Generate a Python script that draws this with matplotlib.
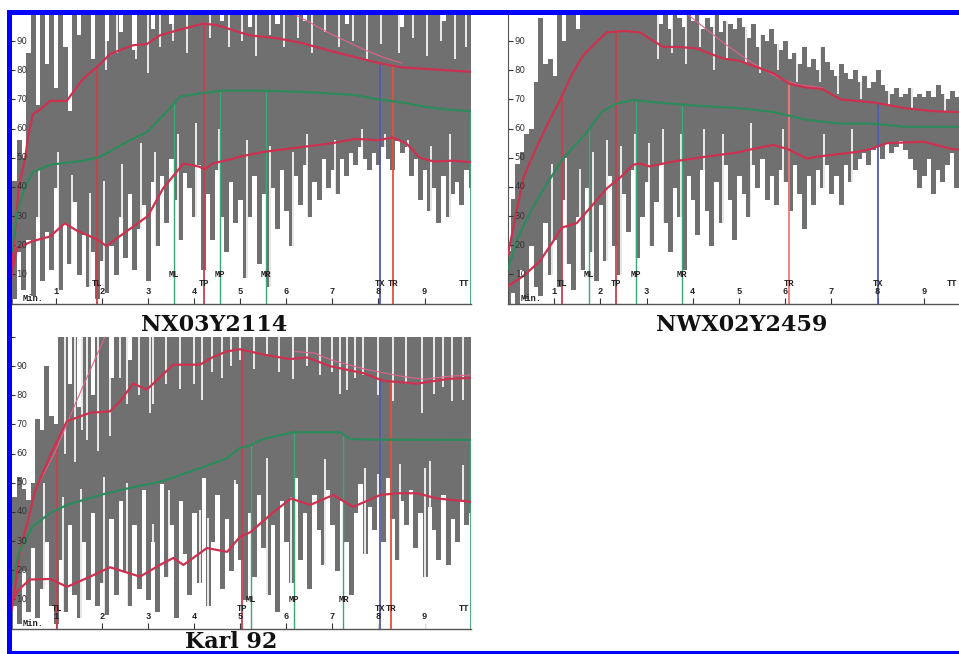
import numpy as np
import matplotlib
matplotlib.use("Agg")
import matplotlib.pyplot as plt
from matplotlib.patches import Rectangle

W, H, DPI = 959, 654, 100
SAMPLE_STEP = 0.1          # minutes between stored trace samples
NAN = float("nan")

MINUTE_TICKS = [1, 2, 3, 4, 5, 6, 7, 8, 9]
MINUTE_LABELS = ["1", "2", "3", "4", "5", "6", "7", "8", "9"]
Y_TICKS = [10, 20, 30, 40, 50, 60, 70, 80, 90]
Y_LABELS = ["10", "20", "30", "40", "50", "60", "70", "80", "90"]

# ---------------------------------------------------------------- NX03Y2114
nx_title = "NX03Y2114"
nx_hi = [15, 42, 56, 50, 86, 100, 68, 100, 82, 100,
         74, 100, 88, 66, 100, 92, 100, 100, 84, 100,
         100, 90, 100, 100, 93, 100, 100, 87, 100, 100,
         100, 94, 100, 100, 100, 96, 100, 100, 100, 100,
         100, 100, 100, 100, 100, 100, 97, 100, 100, 100,
         100, 100, 95, 100, 100, 100, 100, 100, 96, 100,
         100, 100, 100, 100, 97, 100, 100, 100, 100, 100,
         100, 100, 100, 96, 100, 100, 100, 100, 100, 100,
         100, 100, 100, 100, 100, 95, 100, 100, 100, 100,
         100, 100, 100, 100, 97, 100, 100, 100, 100, 100,
         100]
nx_lo = [0, 2, 18, 5, 22, 3, 30, 8, 25, 12,
         40, 5, 28, 14, 35, 10, 24, 6, 18, 2,
         15, 4, 20, 10, 30, 16, 38, 12, 26, 34,
         8, 42, 20, 44, 28, 50, 36, 22, 45, 40,
         30, 48, 12, 38, 22, 46, 30, 18, 42, 28,
         36, 9, 30, 44, 14, 38, 6, 40, 26, 46,
         32, 20, 44, 34, 48, 30, 42, 36, 50, 40,
         46, 38, 50, 44, 52, 48, 54, 50, 46, 52,
         48, 54, 50, 46, 56, 52, 54, 44, 50, 36,
         46, 32, 40, 28, 44, 30, 38, 42, 34, 46,
         40]
nx_up_t = [0.03, 0.12, 0.2, 0.34, 0.41, 0.51, 0.70, 0.88, 1.24, 1.59, 1.96, 2.18,
           2.68, 2.98, 3.26, 3.70, 4.2, 4.5, 5.2, 5.8, 6.3, 7.0, 7.5, 8.0, 8.5,
           9.0, 9.5, 10.0]
nx_up_v = [7, 25, 40, 50, 58, 65, 67, 69.5, 69.5, 77, 82, 85.6,
           88.6, 89, 92, 94, 96, 95.5, 92, 91, 89.5, 86.5, 84.5, 82.5, 81,
           80.5, 80, 79.5]
nx_mid_t = [0.05, 0.15, 0.29, 0.5, 0.88, 1.6, 1.9, 2.1, 2.55, 3.0, 3.4, 3.7, 4.1,
            4.6, 5.5, 6.5, 7.5, 8.0, 8.5, 9.0, 9.5, 10.0]
nx_mid_v = [18, 30, 38, 45, 47.6, 49, 50, 51.5, 55.5, 59, 65.7, 71, 72,
            73, 73, 72.5, 71.5, 70, 69, 67.5, 66.5, 66]
nx_low_t = [0.05, 0.16, 0.5, 0.88, 1.2, 1.46, 1.9, 2.1, 2.33, 3.0, 3.33, 3.77,
            4.1, 4.24, 4.4, 4.85, 5.0, 5.5, 6.0, 6.5, 7.0, 7.5, 8.0, 8.3, 8.6,
            8.9, 9.2, 9.6, 10.0]
nx_low_v = [10, 19, 21.4, 23, 27.5, 25, 22, 19.7, 22.4, 30, 39.5, 48,
            47, 46, 48, 49.7, 50.4, 52, 53, 54, 55, 56.5, 56, 57, 55,
            50, 48.7, 49, 48.5]
nx_max_t = [6.2, 6.5, 6.9, 7.3, 7.7, 8.1, 8.5]
nx_max_v = [99, 96.5, 93, 90, 87, 84.5, 82.5]
nx_gap_top_t = [2.1, 2.33, 2.75, 3.0, 3.27, 3.55, 3.85, 4.35, 4.75, 5.05, 5.35, 5.65,
                5.95, 6.25, 6.55, 6.85, 7.15, 7.45, 7.75, 8.05, 8.45, 8.75, 9.05,
                9.35, 9.65, 9.9]
nx_gap_top_v = [80, 86, 84, 79, 88, 90, 86, 91, 88, 90, 85, 92,
                88, 91, 86, 93, 88, 90, 84, 89, 86, 91, 85,
                90, 84, 88]
nx_gap_bot_t = [0.65, 1.05, 1.35, 1.75, 2.05, 2.45, 2.85, 3.15, 3.65, 4.05, 4.55,
                5.15, 5.65, 6.15, 6.45, 7.05, 7.65, 8.15, 8.65, 9.15, 9.55]
nx_gap_bot_v = [46, 52, 44, 38, 42, 48, 55, 52, 58, 62, 60,
                56, 54, 52, 58, 56, 60, 58, 56, 54, 58]
nx_marks = ["TL", "ML", "TP", "MP", "MR", "TX", "TR", "TT"]
nx_mark_t = [1.9, 3.57, 4.22, 4.57, 5.56, 8.04, 8.31, 10.0]

# --------------------------------------------------------------- NWX02Y2459
nw_title = "NWX02Y2459"
nw_hi = [18, 36, 48, 52, 58, 60, 76, 98, 82, 84,
         78, 100, 90, 100, 100, 94, 100, 100, 100, 100,
         100, 100, 100, 100, 100, 100, 100, 100, 100, 100,
         100, 100, 100, 96, 100, 94, 100, 98, 95, 100,
         97, 100, 94, 98, 95, 100, 93, 97, 96, 94,
         98, 95, 91, 96, 88, 92, 90, 94, 89, 87,
         90, 84, 86, 82, 88, 81, 84, 80, 88, 83,
         80, 78, 82, 79, 77, 80, 76, 78, 74, 76,
         80, 75, 73, 72, 74, 71, 72, 74, 71, 72,
         71, 73, 71, 75, 72, 70, 73, 71, 70, 69,
         69]
nw_lo = [0, 4, 0, 12, 2, 20, 6, 3, 28, 10,
         22, 6, 36, 14, 5, 30, 12, 40, 18, 8,
         34, 15, 44, 20, 10, 38, 25, 46, 16, 30,
         42, 20, 35, 48, 28, 18, 40, 30, 12, 44,
         36, 24, 46, 32, 20, 42, 28, 48, 36, 22,
         44, 38, 30, 48, 40, 50, 36, 44, 34, 46,
         42, 32, 48, 38, 26, 44, 34, 46, 40, 48,
         38, 44, 34, 48, 42, 46, 50, 52, 48, 53,
         54, 50, 55, 52, 54, 56, 53, 50, 46, 40,
         44, 50, 38, 46, 42, 48, 52, 40, 46, 50,
         48]
nw_up_t = [0.0, 0.33, 0.54, 0.84, 1.13, 1.4, 1.62, 1.93, 2.14, 2.5, 2.86, 3.1,
           3.36, 3.7, 4.08, 4.66, 5.0, 5.4, 5.74, 6.1, 6.5, 6.8, 7.2, 7.9, 8.6,
           9.2, 10.0]
nw_up_v = [17, 43, 51, 61, 70, 79, 85, 90, 93, 93.5, 93, 90.5,
           88, 88, 87.5, 84, 83.3, 81, 79, 75.3, 74, 73.6, 70, 69, 67,
           66, 65.5]
nw_mid_t = [0.0, 0.2, 0.5, 0.8, 1.0, 1.2, 1.67, 2.03, 2.33, 2.7, 3.0, 3.94, 5.0,
            5.74, 6.47, 7.2, 7.9, 8.6, 10.0]
nw_mid_v = [12, 22, 32, 40, 45, 50, 58, 65.7, 68.5, 69.8, 69.3, 68, 67,
            65.7, 63, 61.7, 61.7, 60.6, 60.6]
nw_low_t = [0.0, 0.33, 0.69, 0.98, 1.16, 1.49, 1.77, 2.14, 2.5, 2.7, 2.86, 3.07,
            3.57, 4.3, 4.96, 5.3, 5.74, 6.05, 6.47, 6.7, 7.55, 7.85, 8.2, 9.0,
            9.6, 10.0]
nw_low_v = [6, 9.4, 14.5, 21.4, 26, 27.6, 32.7, 39.5, 44.2, 47.6, 48, 47,
            48.7, 50.4, 51.8, 53, 54.4, 53, 49.7, 50.4, 52, 53, 55, 55.5,
            53, 52.5]
nw_max_t = [3.9, 4.3, 4.7, 5.1, 5.5, 5.9, 6.3, 6.8]
nw_max_v = [99, 94, 89, 84.5, 80.5, 77, 75, 74]
nw_gap_top_t = [3.25, 3.55, 3.85, 4.15, 4.45, 4.75, 5.15, 5.45, 5.85, 6.25, 6.75,
                7.15, 7.65, 8.25, 8.75, 9.45]
nw_gap_top_v = [84, 86, 82, 88, 80, 84, 82, 79, 80, 76, 76,
                72, 70, 68, 67, 66]
nw_gap_bot_t = [0.95, 1.25, 1.55, 1.85, 2.15, 2.45, 2.75, 3.05, 3.35, 3.75, 4.25,
                4.65, 5.25, 5.95, 6.85, 7.45]
nw_gap_bot_v = [48, 50, 46, 52, 56, 54, 58, 55, 60, 58, 60,
                58, 62, 60, 58, 60]
nw_marks = ["TL", "ML", "TP", "MP", "MR", "TR", "TX", "TT"]
nw_mark_t = [1.16, 1.76, 2.34, 2.77, 3.77, 6.09, 8.0, 10.0]

# ------------------------------------------------------------------ Karl 92
k_title = "Karl 92"
k_hi = [20, 45, 52, 48, 44, 50, 72, 68, 90, 73,
        70, 101, 101, 84, 101, 76, 101, 101, 80, 101,
        101, 101, 86, 101, 101, 101, 92, 101, 101, 101,
        101, 101, 101, 101, 101, 101, 101, 101, 101, 101,
        101, 101, 101, 101, 101, 101, 101, 101, 101, 101,
        101, 101, 101, 101, 101, 101, 101, 101, 101, 101,
        101, 101, 101, 101, 101, 101, 101, 101, 101, 101,
        101, 101, 101, 101, 101, 101, 101, 101, 101, 101,
        101, 101, 101, 101, 101, 101, 101, 101, 101, 101,
        101, 101, 101, 101, 101, 101, 101, 101, 101, 101,
        101]
k_lo = [0, 8, 2, 20, 6, 28, 4, 14, 30, 8,
        2, 24, 6, 36, 12, 4, 30, 10, 40, 8,
        16, 5, 38, 12, 44, 20, 8, 36, 14, 48,
        10, 30, 6, 50, 18, 36, 4, 44, 26, 12,
        40, 16, 52, 8, 30, 46, 14, 38, 20, 50,
        24, 10, 40, 18, 46, 28, 12, 36, 6, 44,
        30, 16, 52, 24, 40, 14, 46, 34, 22, 48,
        36, 20, 44, 30, 12, 40, 50, 26, 42, 34,
        46, 30, 52, 38, 24, 44, 36, 48, 28, 40,
        18, 42, 34, 24, 46, 22, 38, 30, 44, 36,
        40]
k_up_t = [0.05, 0.23, 0.4, 0.55, 0.9, 1.24, 1.4, 1.75, 2.18, 2.4, 2.68, 2.98,
          3.25, 3.55, 4.13, 4.4, 4.7, 5.0, 5.5, 6.08, 6.45, 6.95, 7.67, 8.1,
          8.84, 9.5, 10.0]
k_up_v = [6.5, 27, 37, 47, 60, 71, 72, 74, 74.5, 78, 84, 82,
          86, 90.5, 90.5, 93, 95, 95.8, 94, 92.4, 93, 90, 87.6, 85,
          84, 85.6, 86]
k_mid_t = [0.05, 0.2, 0.5, 0.88, 1.25, 1.96, 2.68, 3.26, 3.55, 4.13, 4.7, 5.0,
           5.2, 5.5, 6.15, 7.17, 7.38, 8.0, 10.0]
k_mid_v = [15, 26, 35, 39.6, 42.4, 45.8, 48.5, 50.3, 51.8, 55, 58.3, 62,
           62.7, 65, 67.3, 67.3, 65, 64.8, 64.7]
k_low_t = [0.05, 0.18, 0.44, 0.88, 1.25, 1.75, 2.18, 2.83, 3.26, 3.55, 3.77,
           4.28, 4.72, 5.0, 5.22, 5.7, 6.1, 6.52, 7.02, 7.45, 8.04, 8.4, 8.84,
           9.27, 10.0]
k_low_v = [8.9, 13, 16.8, 17, 14.3, 17.8, 21, 17.8, 21.8, 24.2, 21.8,
           27.6, 26.3, 31.5, 33, 39.6, 44.6, 42.4, 45.8, 41.7, 45.8, 46.4, 46.4,
           44.6, 43.5]
k_max_t = [0.55, 0.99, 1.46, 2.03, 2.2, NAN, 6.2, 6.6, 7.0, 7.7, 8.5, 9.0, 9.5, 10.0]
k_max_v = [47, 60.6, 78.3, 98.6, 105, NAN, 95, 94.5, 92, 89, 86.5, 85.5, 86.5, 87]
k_gap_top_t = [1.2, 1.42, 1.57, 1.68, 1.92, 2.18, 2.4, 2.54, 2.8, 3.05, 3.12, 3.4,
               3.7, 3.99, 4.17, 4.39, 4.6, 4.8, 5.0, 5.3, 5.58, 5.85, 6.15, 6.45,
               6.73, 7.0, 7.17, 7.32, 7.5, 7.67, 8.0, 8.32, 8.6, 8.95, 9.2, 9.4,
               9.6, 9.84]
k_gap_top_v = [60, 57, 68, 64.6, 61, 66, 86, 77, 80, 74, 77, 84,
               82, 84, 78.5, 88, 86, 90, 92, 89, 94, 88, 85.6, 90,
               86.8, 88, 80.5, 81.8, 86, 87, 80, 78, 84, 73.8, 80.5, 83,
               78, 78.5]
k_gap_bot_t = [0.75, 1.15, 1.55, 2.05, 2.55, 3.12, 3.45, 4.13, 4.3, 4.74, 4.9,
               5.58, 6.1, 6.84, 7.7, 8.0, 8.47, 9.0, 9.12, 9.84]
k_gap_bot_v = [50, 45, 48, 52, 50, 36, 47.5, 40.5, 38, 35, 51,
               58.5, 45, 58, 55, 53, 56.5, 55, 57.5, 56]
k_marks = ["TL", "TP", "ML", "MP", "MR", "TX", "TR", "TT"]
k_mark_t = [1.03, 5.04, 5.24, 6.16, 7.24, 8.04, 8.28, 10.0]

# ------------------------------------------------------------------ styling
GRAY = "#707070"
GAP = "#ffffff"
RED = "#cc3150"
GREEN = "#2e8a5c"
PINK = "#e0648c"
MARK_COLORS = {"TL": "#c8404c", "TP": "#c8404c", "TR": "#e4503c",
               "TX": "#4f5db0", "ML": "#3aa874", "MP": "#3aa874",
               "MR": "#3aa874", "TT": "#3aa874"}
LABEL_FONT = dict(family="Liberation Mono", fontsize=6.3, fontweight="bold",
                  color="#222222")


def px_box(left, top, right, bottom):
    return [left / W, 1 - bottom / H, (right - left) / W, (bottom - top) / H]


fig = plt.figure(figsize=(W / DPI, H / DPI), dpi=DPI, facecolor="white")


def draw_panel(box, hi, lo, up, mid, low, mx, gap_top, gap_bot, marks,
               mark_t, tr_color=None, tick_100=False, tt_shift=-1.0):
    ax = fig.add_axes(box)
    ax.set_xlim(0, 10)
    ax.set_ylim(0, 100)
    ax.set_facecolor("white")
    for s in ("top", "right"):
        ax.spines[s].set_visible(False)
    ax.spines["left"].set_color("#555555")
    ax.spines["left"].set_linewidth(0.8)
    ax.spines["bottom"].set_color("#555555")
    ax.spines["bottom"].set_linewidth(1.0)
    ax.spines["bottom"].set_zorder(8)

    t = np.arange(len(hi)) * SAMPLE_STEP
    ax.vlines(t, lo, hi, colors=GRAY, linewidth=3.5, antialiased=False,
              capstyle="butt", zorder=1)
    ax.vlines(gap_top[0], gap_top[1], 102, colors=GAP, linewidth=1.2, zorder=2)
    ax.vlines(gap_bot[0], 0, gap_bot[1], colors=GAP, linewidth=1.2, zorder=2)

    # marker lines: time markers reach the upper envelope, mixing markers the mid line
    for name, mt in zip(marks, mark_t):
        if name.startswith("M") or name == "TT":
            top = np.interp(mt, mid[0], mid[1])
        else:
            top = np.interp(mt, up[0], up[1])
        row = 21.0 if name.startswith("M") else 14.5
        color = MARK_COLORS[name]
        if name == "TR" and tr_color:
            color = tr_color
        ax.vlines(mt, 0, top, colors=color,
                  linewidth=1.3 if name.startswith("T") else 1.0, zorder=4)
        ax.annotate(name, xy=(mt, 0), xytext=(tt_shift if name == "TT" else 0, row),
                    textcoords="offset points",
                    ha="right" if name == "TT" else "center", va="center",
                    annotation_clip=False, zorder=9, **LABEL_FONT)

    ax.plot(mx[0], mx[1], color=PINK, linewidth=0.8, zorder=5)
    ax.plot(up[0], up[1], color=RED, linewidth=1.6, zorder=6)
    ax.plot(low[0], low[1], color=RED, linewidth=1.6, zorder=6)
    ax.plot(mid[0], mid[1], color=GREEN, linewidth=1.6, zorder=6)

    # minute axis drawn inside the plot
    ax.set_xticks(MINUTE_TICKS)
    ax.tick_params(axis="x", direction="in", length=4.5, width=0.8,
                   color="#333333", labelbottom=False)
    for m, lab in zip(MINUTE_TICKS, MINUTE_LABELS):
        ax.annotate(lab, xy=(m, 0), xytext=(0, 8.3), textcoords="offset points",
                    ha="center", va="center", zorder=9, **LABEL_FONT)
    ax.annotate("Min.", xy=(0, 0), xytext=(9.3, 3.8), textcoords="offset points",
                ha="left", va="center", zorder=9, **LABEL_FONT)

    yt = Y_TICKS + ([100] if tick_100 else [])
    ax.set_yticks(yt)
    ax.tick_params(axis="y", direction="in", length=3.5, width=0.8,
                   color="#333333", labelleft=False)
    for v, lab in zip(Y_TICKS, Y_LABELS):
        ax.annotate(lab, xy=(0, v), xytext=(4.8, 0), textcoords="offset points",
                    ha="left", va="center", family="DejaVu Sans", fontsize=6.2,
                    color="#333333", zorder=9)
    return ax


draw_panel(px_box(9.5, 12, 470.7, 303.5), nx_hi, nx_lo, (nx_up_t, nx_up_v),
           (nx_mid_t, nx_mid_v), (nx_low_t, nx_low_v), (nx_max_t, nx_max_v),
           (nx_gap_top_t, nx_gap_top_v), (nx_gap_bot_t, nx_gap_bot_v),
           nx_marks, nx_mark_t)
# the right part of this panel runs past the page edge; keep its TT label on the page
draw_panel(px_box(508, 12, 970, 303.5), nw_hi, nw_lo, (nw_up_t, nw_up_v),
           (nw_mid_t, nw_mid_v), (nw_low_t, nw_low_v), (nw_max_t, nw_max_v),
           (nw_gap_top_t, nw_gap_top_v), (nw_gap_bot_t, nw_gap_bot_v),
           nw_marks, nw_mark_t, tr_color="#f07a78", tt_shift=-9.0)
draw_panel(px_box(9.5, 337, 470.7, 628.5), k_hi, k_lo, (k_up_t, k_up_v),
           (k_mid_t, k_mid_v), (k_low_t, k_low_v), (k_max_t, k_max_v),
           (k_gap_top_t, k_gap_top_v), (k_gap_bot_t, k_gap_bot_v),
           k_marks, k_mark_t, tick_100=True)

TITLE_FONT = dict(family="DejaVu Serif", fontweight="bold", fontsize=16,
                  ha="center", va="baseline", color="#111111")
fig.text(214 / W, 1 - 331 / H, nx_title, **TITLE_FONT)
fig.text(742 / W, 1 - 331 / H, nw_title, **TITLE_FONT)
fig.text(231 / W, 1 - 648 / H, k_title, **TITLE_FONT)

# blue page frame
BLUE = "#0000ff"
for (x0, y0, x1, y1) in [(6.5, 10, 11.5, 654), (6.5, 10, 959, 15),
                         (6.5, 651, 959, 654)]:
    fig.add_artist(Rectangle((x0 / W, 1 - y1 / H), (x1 - x0) / W, (y1 - y0) / H,
                             transform=fig.transFigure, facecolor=BLUE,
                             edgecolor="none", zorder=20))

fig.savefig("out.png", dpi=DPI, facecolor="white")
